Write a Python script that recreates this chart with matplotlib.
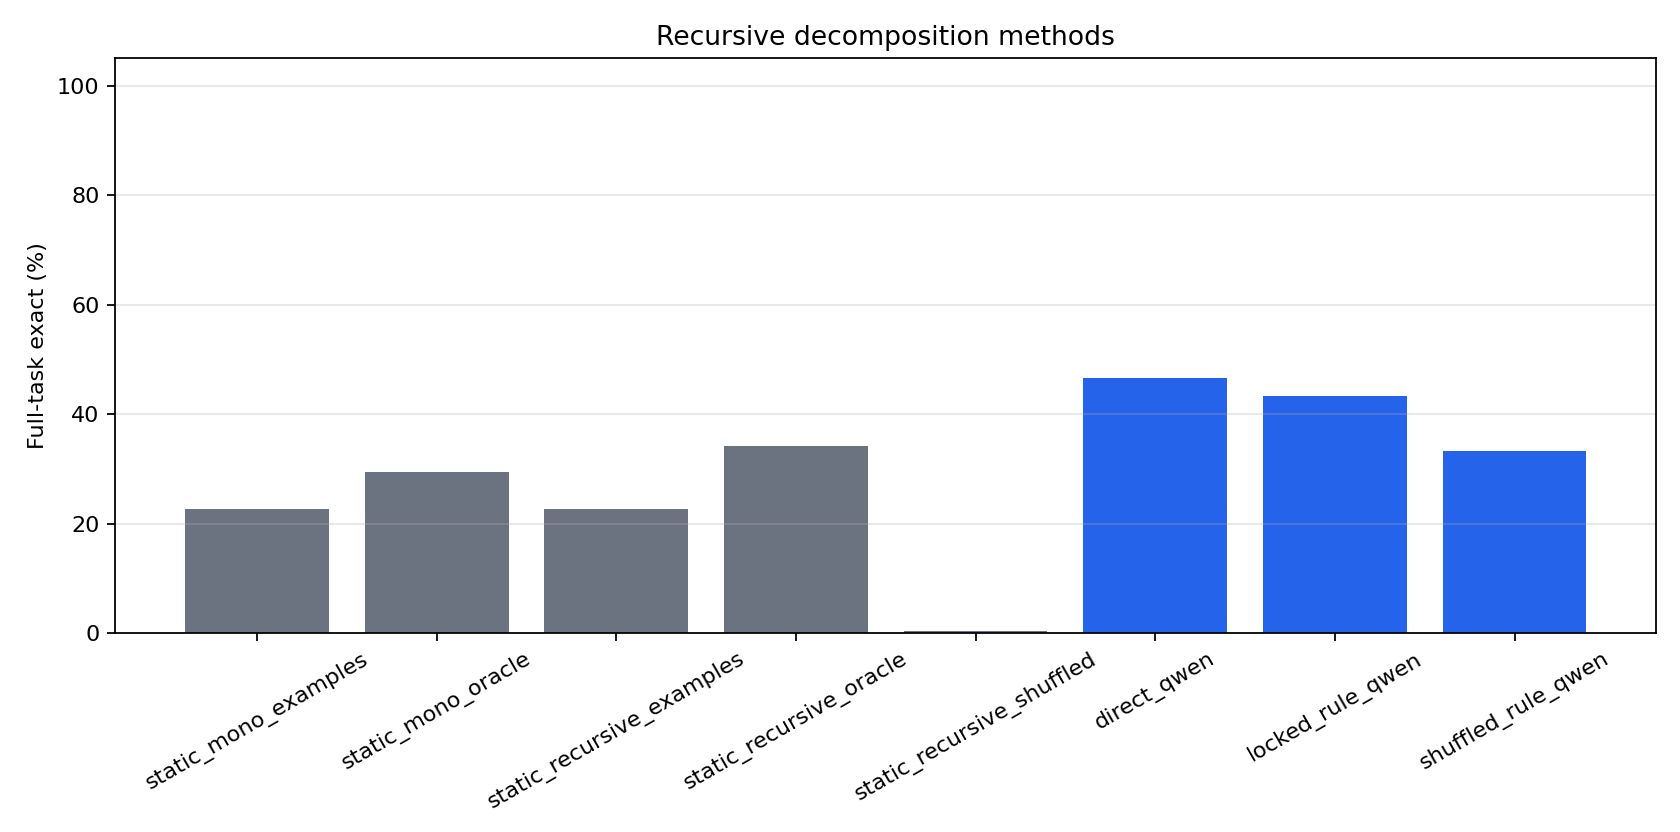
import matplotlib
matplotlib.use("Agg")
import matplotlib.pyplot as plt

methods = ["static_mono_examples", "static_mono_oracle", "static_recursive_examples",
           "static_recursive_oracle", "static_recursive_shuffled", "direct_qwen",
           "locked_rule_qwen", "shuffled_rule_qwen"]
values = [22.6, 29.4, 22.6, 34.1, 0.4, 46.6, 43.3, 33.3]
groups = ["static", "static", "static", "static", "static", "qwen", "qwen", "qwen"]
palette = {"static": "#6b7280", "qwen": "#2563eb"}

fig, ax = plt.subplots(figsize=(10.5, 5.2), dpi=160)
x = list(range(len(methods)))
ax.bar(x, values, color=[palette[g] for g in groups])
ax.set_xticks(x)
ax.set_xticklabels(methods, rotation=30, ha="center")
ax.set_ylim(0, 105)
ax.set_ylabel("Full-task exact (%)")
ax.set_title("Recursive decomposition methods")
ax.yaxis.grid(True, alpha=0.3)
fig.subplots_adjust(left=0.0685, right=0.986, top=0.930, bottom=0.239)
fig.savefig("out.png", dpi=160)
